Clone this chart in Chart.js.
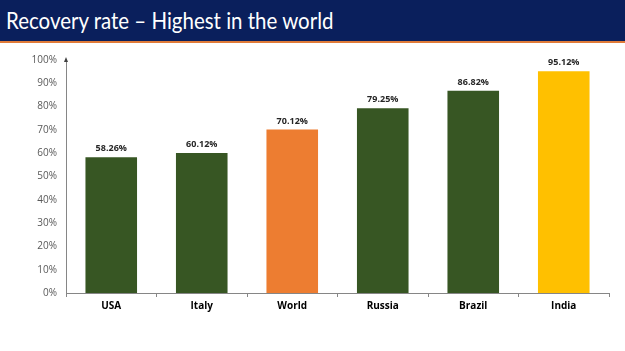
<!DOCTYPE html>
<html>
<head>
<meta charset="utf-8">
<script src="https://cdn.jsdelivr.net/npm/chart.js@4"></script>
<style>
  body { margin: 0; background: #fff; }
  #wrap { position: relative; width: 625px; height: 351px; }
  #header {
    position: absolute; left: 0; top: 0; width: 625px; height: 41px;
    background: #0a1f5c; border-bottom: 2px solid #e07b39;
  }
  #header span {
    position: absolute; left: 6px; top: 0;
    color: #fff; font-family: Lato, sans-serif; font-size: 23px;
    line-height: 40px; white-space: nowrap;
    transform: scaleX(0.89); transform-origin: left center;
  }
  canvas { position: absolute; left: 0; top: 0; }
</style>
</head>
<body>
<div id="wrap">
  <canvas id="myChart" width="625" height="351"></canvas>
  <div id="header"><span>Recovery rate – Highest in the world</span></div>
</div>
<script>
"use strict"

let countries = ['USA', 'Italy', 'World', 'Russia', 'Brazil', 'India'];
let recoveryRates = [58.26, 60.12, 70.12, 79.25, 86.82, 95.12];
let barColors = ['#375623', '#375623', '#ed7d31', '#375623', '#375623', '#ffc000'];
let yTicks = [0, 10, 20, 30, 40, 50, 60, 70, 80, 90, 100];

// puts the value above each bar
const valueLabels = {
    id: 'valueLabels',
    afterDatasetsDraw(chart) {
        const ctx = chart.ctx;
        const meta = chart.getDatasetMeta(0);
        ctx.save();
        ctx.font = 'bold 9px "Open Sans", sans-serif';
        ctx.fillStyle = '#262626';
        ctx.textAlign = 'center';
        ctx.textBaseline = 'bottom';
        meta.data.forEach((bar, i) => {
            ctx.fillText(recoveryRates[i].toFixed(2) + '%', bar.x, bar.y - 4);
        });
        ctx.restore();
    }
};

// little arrow head on top of the y axis
const axisArrow = {
    id: 'axisArrow',
    afterDraw(chart) {
        const ctx = chart.ctx;
        const x = chart.scales.y.right;
        const top = chart.chartArea.top;
        ctx.save();
        ctx.fillStyle = '#404040';
        ctx.beginPath();
        ctx.moveTo(x, top - 3);
        ctx.lineTo(x - 2, top + 2);
        ctx.lineTo(x + 2, top + 2);
        ctx.closePath();
        ctx.fill();
        ctx.restore();
    }
};

const data = {
    labels: countries,
    datasets: [{
        data: recoveryRates,
        backgroundColor: barColors,
        categoryPercentage: 1,
        barPercentage: 0.57
    }]
};

const config = {
    type: 'bar',
    data: data,
    options: {
        responsive: false,
        animation: false,
        layout: { padding: { top: 60, right: 16, bottom: 0, left: 0 } },
        plugins: { legend: { display: false }, tooltip: { enabled: false } },
        scales: {
            y: {
                min: 0,
                max: 100,
                afterFit(scale) { scale.width = 66; },
                afterBuildTicks(scale) { scale.ticks = yTicks.map(v => ({ value: v })); },
                grid: { display: false, drawTicks: false },
                border: { display: true, color: '#868686', width: 1 },
                ticks: {
                    padding: 9,
                    color: '#595959',
                    font: { family: '"Open Sans", sans-serif', size: 10 },
                    callback: v => v + '%'
                }
            },
            x: {
                afterFit(scale) { scale.height = 58; },
                grid: { display: true, drawOnChartArea: false, tickLength: 4, color: '#868686' },
                border: { display: true, color: '#868686', width: 1 },
                ticks: {
                    padding: 3,
                    color: '#000',
                    font: { family: '"Open Sans", sans-serif', size: 10, weight: 'bold' }
                }
            }
        }
    },
    plugins: [valueLabels, axisArrow]
};

let canvasChart = document.getElementById('myChart');
const myChart = new Chart(canvasChart, config);
</script>
</body>
</html>
